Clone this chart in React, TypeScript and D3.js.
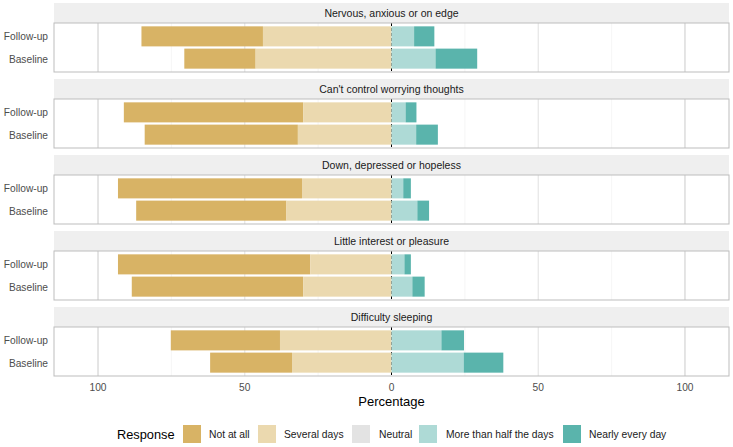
import React from "react";
import * as d3 from "d3";

const items = [
  "Nervous, anxious or on edge",
  "Can't control worrying thoughts",
  "Down, depressed or hopeless",
  "Little interest or pleasure",
  "Difficulty sleeping",
];
const times = ["Follow-up", "Baseline"];
const responses = ["Not at all", "Several days", "Neutral", "More than half the days", "Nearly every day"];
const colors = ["#D8B365", "#EBD9AF", "#E3E3E3", "#AEDAD6", "#5AB4AC"];

// [item][time] percentages
const notAtAll = [[41.4, 24.3], [61.1, 52.2], [62.7, 51.2], [65.5, 58.4], [37.2, 27.9]];
const severalDays = [[43.8, 46.3], [30.1, 31.9], [30.5, 35.8], [27.7, 30.1], [38.0, 33.9]];
const moreThanHalf = [[7.7, 15.0], [4.8, 8.4], [4.0, 8.8], [4.4, 7.1], [17.0, 24.6]];
const nearlyEvery = [[6.9, 14.2], [3.7, 7.4], [2.6, 4.0], [2.2, 4.2], [7.7, 13.5]];

const xTicks = [-100, -50, 0, 50, 100];
const xMinor = [-75, -25, 25, 75];

const W = 733, H = 447;
const left = 54, right = 729;
const stripH = 20, panelH = 49, period = 76, top0 = 3;
const font = "'Liberation Sans', Arial, Helvetica, sans-serif";

export default function App() {
  const x = d3.scaleLinear().domain([-115, 115]).range([left, right]);
  // ggplot-like: discrete expansion 0.6 each side, width 0.9
  const unit = panelH / 2.2;
  const yc = (t: string) => (0.6 + times.indexOf(t)) * unit;
  const bh = 0.9 * unit;

  const panels = items.map((item, i) => {
    const sTop = top0 + i * period;
    const pTop = sTop + stripH;
    const segs: any[] = [];
    times.forEach((t, j) => {
      const s = severalDays[i][j];
      const n = notAtAll[i][j];
      const m = moreThanHalf[i][j];
      const ne = nearlyEvery[i][j];
      const cy = pTop + yc(t);
      segs.push({ x0: -s - n, x1: -s, c: colors[0], cy });
      segs.push({ x0: -s, x1: 0, c: colors[1], cy });
      segs.push({ x0: 0, x1: m, c: colors[3], cy });
      segs.push({ x0: m, x1: m + ne, c: colors[4], cy });
    });
    return (
      <g key={item}>
        <rect x={left} y={sTop} width={right - left} height={stripH} fill="#EFEFEF" />
        <text x={(left + right) / 2} y={sTop + stripH / 2 + 4} textAnchor="middle" fontSize={10.5} fill="#1A1A1A" fontFamily={font}>
          {item}
        </text>
        <rect x={left} y={pTop} width={right - left} height={panelH} fill="#FFFFFF" />
        {xMinor.map((v) => (
          <line key={"m" + v} x1={x(v)} x2={x(v)} y1={pTop} y2={pTop + panelH} stroke="#F0F0F0" strokeWidth={0.6} />
        ))}
        {xTicks.filter((v) => v !== 0).map((v) => (
          <line key={"g" + v} x1={x(v)} x2={x(v)} y1={pTop} y2={pTop + panelH} stroke={Math.abs(v) === 100 ? "#CFCFCF" : "#E3E3E3"} strokeWidth={1.1} />
        ))}
        <line x1={x(0)} x2={x(0)} y1={pTop} y2={pTop + panelH} stroke="#000" strokeWidth={1} strokeDasharray="3,2" />
        {segs.map((s, k) => (
          <rect key={k} x={x(s.x0)} y={s.cy - bh / 2} width={x(s.x1) - x(s.x0)} height={bh} fill={s.c} />
        ))}
        <rect x={left} y={pTop} width={right - left} height={panelH} fill="none" stroke="#BDBDBD" strokeWidth={1} />
        {times.map((t) => (
          <text key={t} x={48} y={pTop + yc(t) + 4} textAnchor="end" fontSize={10.2} fill="#4D4D4D" fontFamily={font}>
            {t}
          </text>
        ))}
      </g>
    );
  });

  const axisY = top0 + 4 * period + stripH + panelH;
  const legendKeys = [183, 258, 352, 419, 563];
  const legendText = [209, 284, 379, 446, 589];

  return (
    <svg width={W} height={H} style={{ position: "absolute", left: 0, top: 0, background: "#fff" }}>
      {panels}
      {xTicks.map((v) => (
        <text key={v} x={x(v)} y={axisY + 15} textAnchor="middle" fontSize={10.2} fill="#4D4D4D" fontFamily={font}>
          {Math.abs(v)}
        </text>
      ))}
      <text x={x(0)} y={axisY + 30} textAnchor="middle" fontSize={13} fill="#000" fontFamily={font}>
        Percentage
      </text>
      <text x={117} y={439} fontSize={12.8} fill="#000" fontFamily={font}>Response</text>
      {responses.map((r, k) => (
        <g key={r}>
          <rect x={legendKeys[k]} y={425} width={18} height={18} fill={colors[k]} />
          <text x={legendText[k]} y={438} fontSize={10.3} fill="#1A1A1A" fontFamily={font}>{r}</text>
        </g>
      ))}
    </svg>
  );
}
